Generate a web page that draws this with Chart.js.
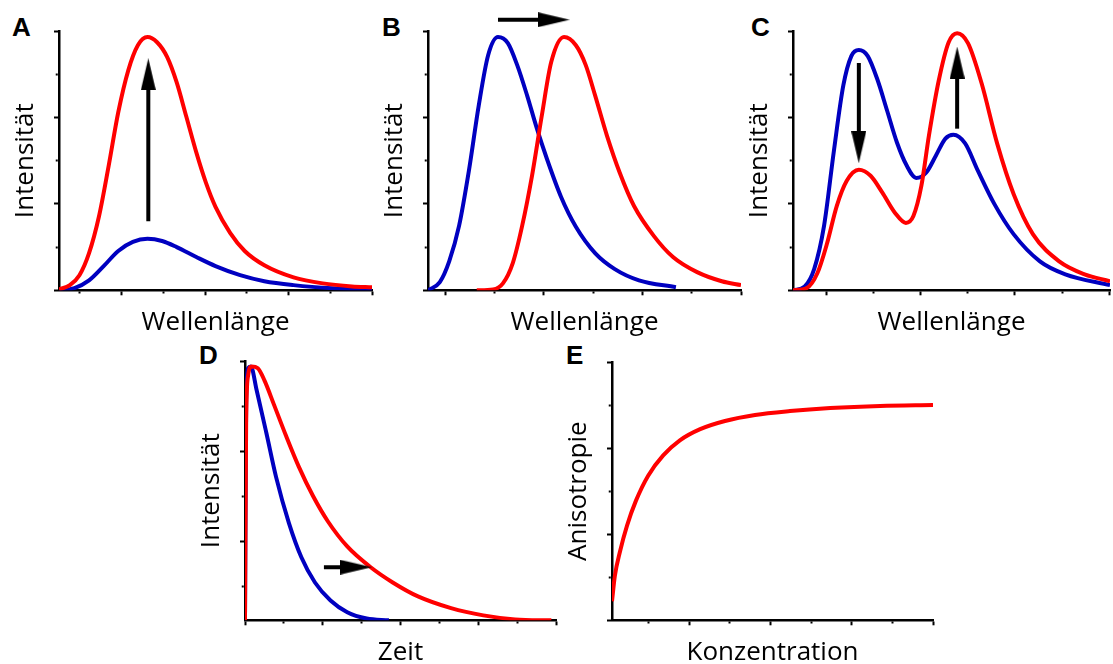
<!DOCTYPE html>
<html>
<head>
<meta charset="utf-8">
<script src="https://cdn.jsdelivr.net/npm/chart.js"></script>
<style>
  html, body { margin: 0; padding: 0; background: #fff; }
  body { width: 1113px; height: 664px; overflow: hidden; position: relative; }
  canvas { position: absolute; }
  .tag { position: absolute; font: bold 26px "Liberation Sans", Arial, sans-serif; line-height: 26px; color: #000; }
</style>
</head>
<body>
<div class="tag" style="left:12px;top:14px">A</div>
<div class="tag" style="left:382px;top:14px">B</div>
<div class="tag" style="left:751px;top:14px">C</div>
<div class="tag" style="left:199px;top:342px">D</div>
<div class="tag" style="left:566px;top:342px">E</div>

<canvas id="chartA" width="386" height="338" style="left:0px;top:0px"></canvas>
<canvas id="chartB" width="386" height="338" style="left:369px;top:0px"></canvas>
<canvas id="chartC" width="390" height="338" style="left:734px;top:0px"></canvas>
<canvas id="chartD" width="384" height="338" style="left:186px;top:330px"></canvas>
<canvas id="chartE" width="385" height="337" style="left:553px;top:331px"></canvas>

<script>
// values are in tick units (one unit = distance between two small ticks)

// A: intensity increase
const aRedX = [0, 0.26, 0.49, 0.72, 0.96, 1.19, 1.42, 1.66, 1.89, 2.12, 2.35, 2.59, 2.82, 3.05, 3.29, 3.52, 3.75, 4.10, 4.45, 4.92, 5.62, 6.32, 7.02, 7.5];
const aRedY = [0.02, 0.12, 0.35, 0.86, 1.72, 2.88, 4.12, 5.09, 5.67, 5.86, 5.74, 5.40, 4.81, 4.02, 3.19, 2.49, 1.93, 1.33, 0.91, 0.58, 0.30, 0.16, 0.09, 0.07];
const aBlueX = [0, 0.37, 0.72, 1.07, 1.42, 1.77, 2.12, 2.47, 2.82, 3.29, 3.75, 4.34, 4.92, 5.62, 6.55, 7.5];
const aBlueY = [0, 0.05, 0.23, 0.56, 0.91, 1.12, 1.19, 1.14, 1.0, 0.77, 0.56, 0.35, 0.21, 0.12, 0.05, 0.02];
const aArrowX = [2.14, 2.14];
const aArrowY = [1.6, 5.0];
const aTicksX = [0.5, 1.5, 2.5, 3.5, 4.5, 5.5, 6.5, 7.5];
const aMajorX = [1.5, 3.5, 5.5, 7.5];

// B: red shift
const bBlueX = [0, 0.24, 0.43, 0.63, 0.83, 1.03, 1.22, 1.42, 1.62, 1.81, 2.01, 2.21, 2.41, 2.70, 3.0, 3.39, 3.79, 4.28, 5.03];
const bBlueY = [0, 0.19, 0.67, 1.49, 2.77, 4.28, 5.44, 5.86, 5.72, 5.21, 4.51, 3.74, 3.05, 2.16, 1.47, 0.86, 0.49, 0.23, 0.07];
const bRedX = [0.99, 1.32, 1.52, 1.72, 1.91, 2.11, 2.31, 2.50, 2.76, 3.0, 3.20, 3.39, 3.63, 3.89, 4.18, 4.58, 4.97, 5.46, 5.96, 6.35];
const bRedY = [0, 0.02, 0.16, 0.63, 1.49, 2.65, 4.05, 5.28, 5.86, 5.67, 5.21, 4.51, 3.58, 2.72, 1.95, 1.26, 0.77, 0.42, 0.21, 0.12];
const bArrowX = [1.42, 2.55];
const bArrowY = [6.26, 6.26];
const bTicksX = [0.35, 1.35, 2.35, 3.35, 4.35, 5.35, 6.35];
const bMajorX = [0.35, 2.35, 4.35, 6.35];

// C: two bands, intensity moves from one to the other
const cBlueX = [0, 0.25, 0.45, 0.66, 0.87, 1.07, 1.24, 1.40, 1.59, 1.80, 2.0, 2.21, 2.42, 2.62, 2.83, 3.04, 3.24, 3.41, 3.66, 3.93, 4.28, 4.69, 5.25, 5.79, 6.74];
const cBlueY = [0, 0.09, 0.49, 1.49, 3.23, 4.74, 5.42, 5.56, 5.42, 4.86, 4.16, 3.42, 2.88, 2.60, 2.72, 3.12, 3.51, 3.60, 3.40, 2.77, 2.0, 1.30, 0.67, 0.37, 0.12];
const cRedX = [0, 0.29, 0.52, 0.72, 0.93, 1.14, 1.40, 1.65, 1.90, 2.17, 2.40, 2.56, 2.73, 2.89, 3.10, 3.31, 3.49, 3.72, 4.01, 4.34, 4.69, 5.10, 5.66, 6.20, 6.74];
const cRedY = [0, 0.05, 0.40, 1.07, 1.95, 2.53, 2.79, 2.65, 2.26, 1.79, 1.56, 1.72, 2.42, 3.58, 4.86, 5.74, 5.95, 5.72, 4.79, 3.40, 2.23, 1.30, 0.67, 0.37, 0.21];
const cDownX = [1.40, 1.40];
const cDownY = [5.26, 3.31];
const cUpX = [3.49, 3.49];
const cUpY = [3.74, 5.27];
const cTicksX = [0.72, 1.72, 2.72, 3.72, 4.72, 5.72, 6.72];
const cMajorX = [0.72, 2.72, 4.72, 6.72];

// D: decay over time
const dBlueX = [0, 0.03, 0.08, 0.15, 0.3, 0.55, 0.8, 1.13, 1.45, 1.8, 2.2, 2.63, 3.13, 3.7];
const dBlueY = [0, 4.89, 5.6, 5.64, 5.11, 4.16, 3.18, 2.16, 1.40, 0.84, 0.44, 0.18, 0.04, 0];
const dRedX = [0, 0.03, 0.08, 0.17, 0.33, 0.5, 0.75, 1.05, 1.38, 1.75, 2.13, 2.63, 3.2, 3.8, 4.45, 5.3, 6.13, 6.95, 7.88];
const dRedY = [0, 4.44, 5.44, 5.64, 5.6, 5.33, 4.78, 4.11, 3.42, 2.76, 2.2, 1.64, 1.2, 0.84, 0.53, 0.27, 0.11, 0.02, 0];
const dArrowX = [2.03, 2.85];
const dArrowY = [1.18, 1.18];
const dTicksX = [0, 1, 2, 3, 4, 5, 6, 7, 8];
const dMajorX = [0, 2, 4, 6, 8];
const dTicksY = [0.76, 1.76, 2.76, 3.76, 4.76, 5.76];
const dMajorY = [1.76, 3.76, 5.76];

// E: anisotropy vs concentration
const eRedX = [0, 0.07, 0.2, 0.37, 0.59, 0.89, 1.26, 1.67, 2.17, 2.78, 3.52, 4.38, 5.37, 6.6, 7.9];
const eRedY = [0.44, 1.03, 1.61, 2.2, 2.78, 3.36, 3.83, 4.18, 4.44, 4.63, 4.77, 4.86, 4.93, 4.98, 5.0];
const eTicksX = [0.9, 1.9, 2.9, 3.9, 4.9, 5.9, 6.9, 7.9];
const eMajorX = [1.9, 3.9, 5.9, 7.9];

const ticksY = [0, 1, 2, 3, 4, 5, 6];
const majorY = [0, 2, 4, 6];

const RED = '#ff0000';
const BLUE = '#0000c0';

Chart.defaults.font.family = '"Open Sans", sans-serif';
Chart.defaults.color = '#000';

// arrow head used as point style
const head = document.createElement('canvas');
head.width = 15;
head.height = 32;
const hctx = head.getContext('2d');
hctx.fillStyle = '#000';
hctx.beginPath();
hctx.moveTo(7.5, 0);
hctx.lineTo(15, 32);
hctx.lineTo(0, 32);
hctx.closePath();
hctx.fill();

function pairs(xs, ys){
  return xs.map((x, i) => ({x: x, y: ys[i]}));
}

function curve(xs, ys, color){
  return {
    data: pairs(xs, ys),
    borderColor: color,
    borderWidth: 4,
    pointRadius: 0,
    cubicInterpolationMode: 'monotone',
    fill: false
  };
}

function arrow(xs, ys, rot){
  return {
    data: pairs(xs, ys),
    borderColor: '#000',
    borderWidth: 4,
    pointRadius: [0, 10],
    pointStyle: head,
    pointRotation: [0, rot],
    clip: false
  };
}

function isMajor(list){
  return function(ctx){
    if (!ctx.tick) return false;
    return list.some(v => Math.abs(v - ctx.tick.value) < 1e-6);
  };
}

function makeAxis(pos, min, max, tickList, majorList, title, titlePad){
  const major = isMajor(majorList);
  return {
    type: 'linear',
    position: pos,
    min: min,
    max: max,
    afterBuildTicks: function(scale){
      scale.ticks = tickList.map(v => ({value: v}));
    },
    ticks: { display: false },
    border: { display: true, color: '#000', width: 2.5 },
    grid: {
      display: true,
      drawOnChartArea: false,
      drawTicks: true,
      tickLength: 5,
      tickWidth: 2,
      tickColor: '#000',
      tickBorderDash: function(ctx){
        if (major(ctx)) return [];
        return pos === 'bottom' ? [2, 20] : [0, 1.75, 2, 20];
      }
    },
    title: {
      display: true,
      text: title,
      font: { size: 26 },
      color: '#000',
      padding: titlePad
    }
  };
}

function makePanel(id, datasets, xAxis, yAxis, pad){
  new Chart(document.getElementById(id), {
    type: 'line',
    data: { datasets: datasets },
    options: {
      responsive: false,
      animation: false,
      events: [],
      layout: { padding: pad },
      plugins: { legend: { display: false }, tooltip: { enabled: false } },
      scales: { x: xAxis, y: yAxis }
    }
  });
}

const xPad = {top: 11.5, bottom: 0};
const yPad = {top: 0, bottom: 12.8};
const basePad = {left: 10, right: 5, top: 31, bottom: 0};

makePanel('chartA',
  [arrow(aArrowX, aArrowY, 0), curve(aRedX, aRedY, RED), curve(aBlueX, aBlueY, BLUE)],
  makeAxis('bottom', 0, 7.5, aTicksX, aMajorX, 'Wellenlänge', xPad),
  makeAxis('left', 0, 6, ticksY, majorY, 'Intensität', yPad),
  basePad);

makePanel('chartB',
  [arrow(bArrowX, bArrowY, 90), curve(bRedX, bRedY, RED), curve(bBlueX, bBlueY, BLUE)],
  makeAxis('bottom', 0, 6.35, bTicksX, bMajorX, 'Wellenlänge', xPad),
  makeAxis('left', 0, 6, ticksY, majorY, 'Intensität', yPad),
  basePad);

makePanel('chartC',
  [arrow(cDownX, cDownY, 180), arrow(cUpX, cUpY, 0), curve(cRedX, cRedY, RED), curve(cBlueX, cBlueY, BLUE)],
  makeAxis('bottom', 0, 6.74, cTicksX, cMajorX, 'Wellenlänge', xPad),
  makeAxis('left', 0, 6, ticksY, majorY, 'Intensität', yPad),
  basePad);

makePanel('chartD',
  [arrow(dArrowX, dArrowY, 90), curve(dRedX, dRedY, RED), curve(dBlueX, dBlueY, BLUE)],
  makeAxis('bottom', 0, 8, dTicksX, dMajorX, 'Zeit', xPad),
  makeAxis('left', 0, 5.76, dTicksY, dMajorY, 'Intensität', yPad),
  basePad);

makePanel('chartE',
  [curve(eRedX, eRedY, RED)],
  makeAxis('bottom', 0, 7.9, eTicksX, eMajorX, 'Konzentration', xPad),
  makeAxis('left', 0, 6, ticksY, majorY, 'Anisotropie', yPad),
  basePad);
</script>
</body>
</html>
